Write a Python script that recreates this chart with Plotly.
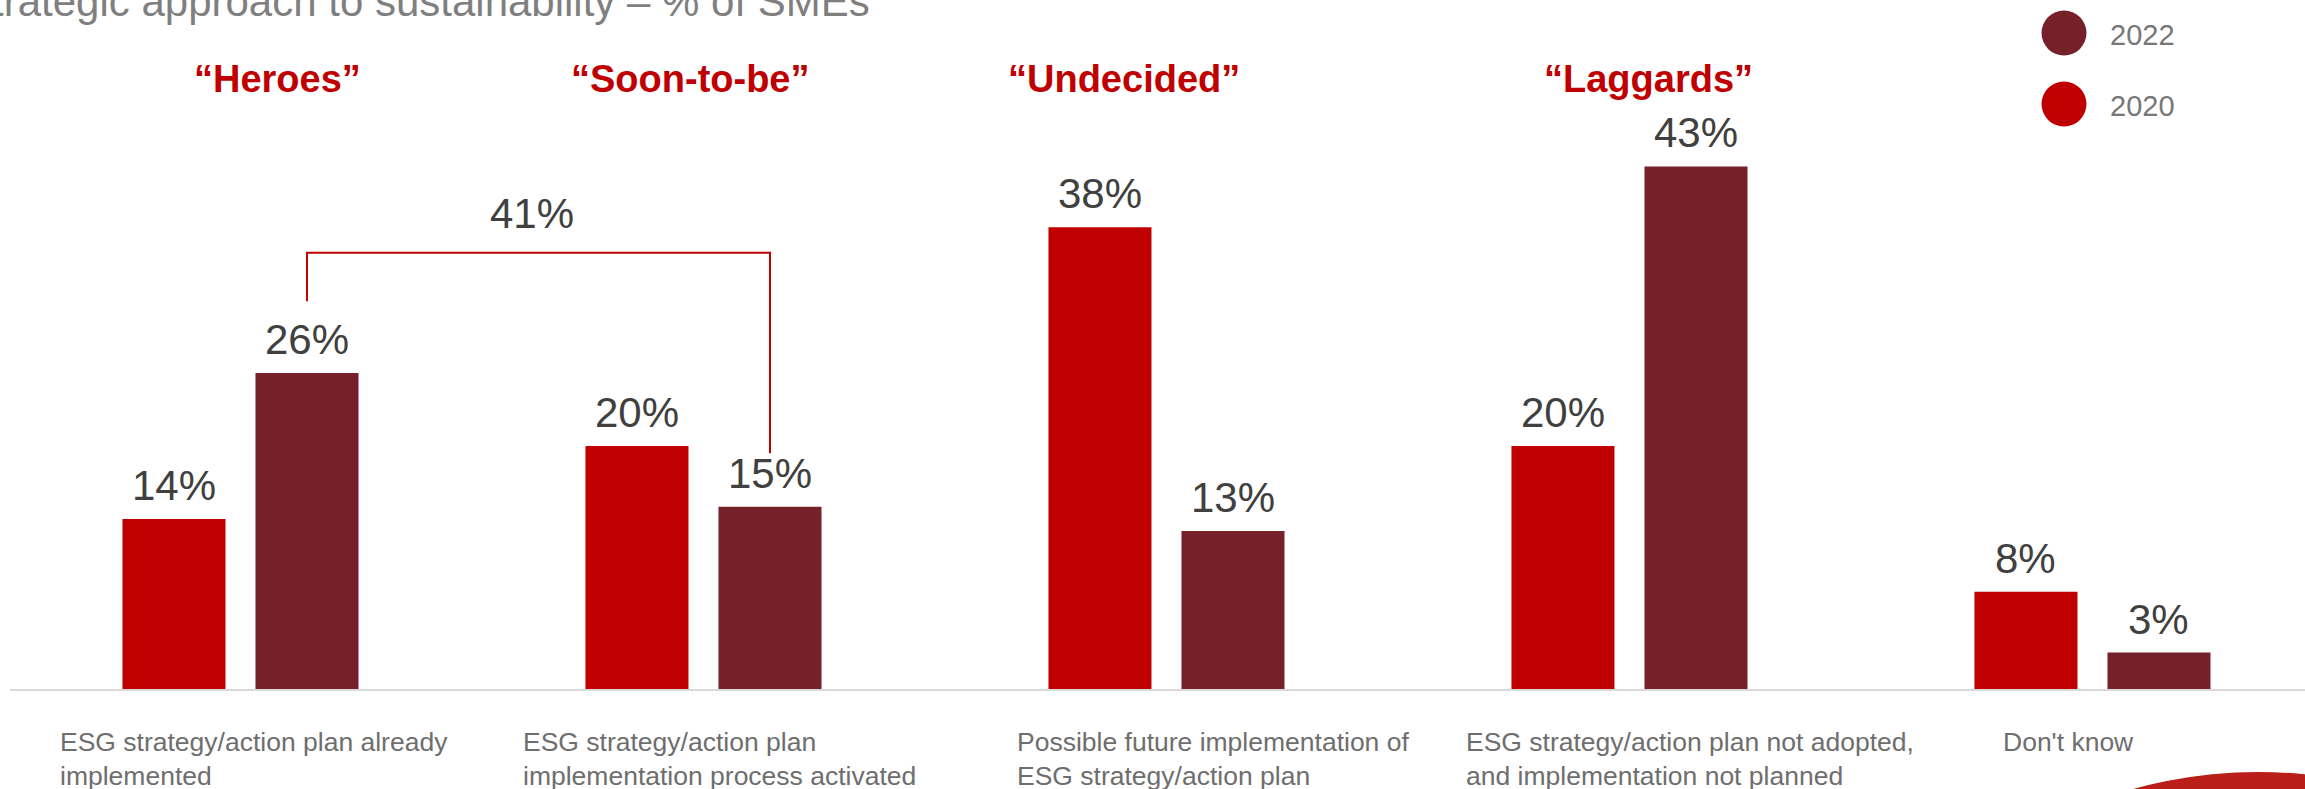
import plotly.graph_objects as go

# ---- data ----
categories = [
    "ESG strategy/action plan already<br>implemented",
    "ESG strategy/action plan<br>implementation process activated",
    "Possible future implementation of<br>ESG strategy/action plan",
    "ESG strategy/action plan not adopted,<br>and implementation not planned",
    "Don't know",
]
groups = ["\u201cHeroes\u201d", "\u201cSoon-to-be\u201d", "\u201cUndecided\u201d", "\u201cLaggards\u201d"]
values_2020 = [14, 20, 38, 20, 8]
values_2022 = [26, 15, 13, 43, 3]

# ---- layout constants ----
W, H = 2305, 789
ML, MR, MT, MB = 10, 0, 0, 100
PW, PH = W - ML - MR, H - MT - MB
XMIN, XMAX = -0.4978, 4.459
YMAX = 56.7

RED = "#C00000"
DARK = "#76202A"
FONT = "Liberation Sans, Arial, sans-serif"

BW = 0.2225
GAP = 0.0648
off_red = -(BW + GAP / 2)
off_dark = GAP / 2

label_offsets = [-0.394, -0.394, -0.328, -0.357, -0.198]
header_x = [0.079, 0.973, 1.908, 3.040]

def px_x(p):
    return (p - ML) / PW

def px_y(p):
    return (MT + PH - p) / PH

xs = list(range(len(categories)))

fig = go.Figure()
fig.add_trace(go.Bar(x=xs, y=values_2020, width=BW, offset=off_red,
                     marker=dict(color=RED, line=dict(width=0)), name="2020",
                     hoverinfo="skip"))
fig.add_trace(go.Bar(x=xs, y=values_2022, width=BW, offset=off_dark,
                     marker=dict(color=DARK, line=dict(width=0)), name="2022",
                     hoverinfo="skip"))

ann = []
# value labels
for i in xs:
    for v, off in ((values_2020[i], off_red), (values_2022[i], off_dark)):
        ann.append(dict(x=i + off + BW / 2, y=v, xref="x", yref="y",
                        text=f"{v}%", showarrow=False, yanchor="bottom",
                        yshift=8, font=dict(family=FONT, size=42, color="#404040")))

# category labels
for i, c in enumerate(categories):
    ann.append(dict(x=i + label_offsets[i], y=0, xref="x", yref="y", text=c,
                    showarrow=False, xanchor="left", yanchor="top", align="left",
                    yshift=-36, font=dict(family=FONT, size=26.5, color="#6E6E6E")))

# group headers
for g, hx in zip(groups, header_x):
    ann.append(dict(x=hx, y=px_y(79), xref="x", yref="paper", text=f"<b>{g}</b>",
                    showarrow=False, xanchor="center", yanchor="middle",
                    font=dict(family=FONT, size=38, color=RED)))

# bracket between Heroes (2022) and Soon-to-be (2022)
bx0 = 0 + off_dark + BW / 2
bx1 = 1 + off_dark + BW / 2
total = values_2022[0] + values_2022[1]
shapes = [
    dict(type="path", xref="x", yref="y",
         path=f"M {bx0} 31.9 L {bx0} 35.9 L {bx1} 35.9 L {bx1} 19.4",
         line=dict(color=RED, width=2)),
]
ann.append(dict(x=0.63, y=35.9, xref="x", yref="y", text=f"{total}%",
                showarrow=False, yanchor="bottom", yshift=14,
                font=dict(family=FONT, size=42, color="#404040")))

# title (partially cut off at top/left in the reference)
ann.append(dict(x=px_x(872), y=px_y(27), xref="paper", yref="paper",
                text="Strategic approach to sustainability \u2013 % of SMEs",
                showarrow=False, xanchor="right", yanchor="bottom",
                font=dict(family=FONT, size=42, color="#7F7F7F")))

# legend (manual)
for name, cy, col in (("2022", 33, DARK), ("2020", 104, RED)):
    shapes.append(dict(type="circle", xref="paper", yref="paper",
                       x0=px_x(2064 - 22.5), x1=px_x(2064 + 22.5),
                       y0=px_y(cy + 22.5), y1=px_y(cy - 22.5),
                       fillcolor=col, line=dict(width=0)))
    ann.append(dict(x=px_x(2108), y=px_y(cy + 2), xref="paper", yref="paper",
                    text=name, showarrow=False, xanchor="left", yanchor="middle",
                    font=dict(family=FONT, size=29, color="#777777")))

# decorative red circle at bottom-right
shapes.append(dict(type="circle", xref="paper", yref="paper",
                   x0=px_x(2258 - 468), x1=px_x(2258 + 468),
                   y0=px_y(1240 + 468), y1=px_y(1240 - 468),
                   fillcolor="#BA1E18", line=dict(width=0), layer="above"))

fig.update_layout(
    width=W, height=H,
    margin=dict(l=ML, r=MR, t=MT, b=MB),
    paper_bgcolor="white", plot_bgcolor="white",
    barmode="overlay", showlegend=False,
    xaxis=dict(range=[XMIN, XMAX], showgrid=False, zeroline=False,
               showticklabels=False, ticks="", showline=True,
               linecolor="#D9D9D9", linewidth=2, fixedrange=True),
    yaxis=dict(range=[0, YMAX], showgrid=False, zeroline=False,
               showticklabels=False, ticks="", showline=False, fixedrange=True),
    annotations=ann, shapes=shapes,
    font=dict(family=FONT),
)

fig.write_html("out.html", config={"displayModeBar": False})
